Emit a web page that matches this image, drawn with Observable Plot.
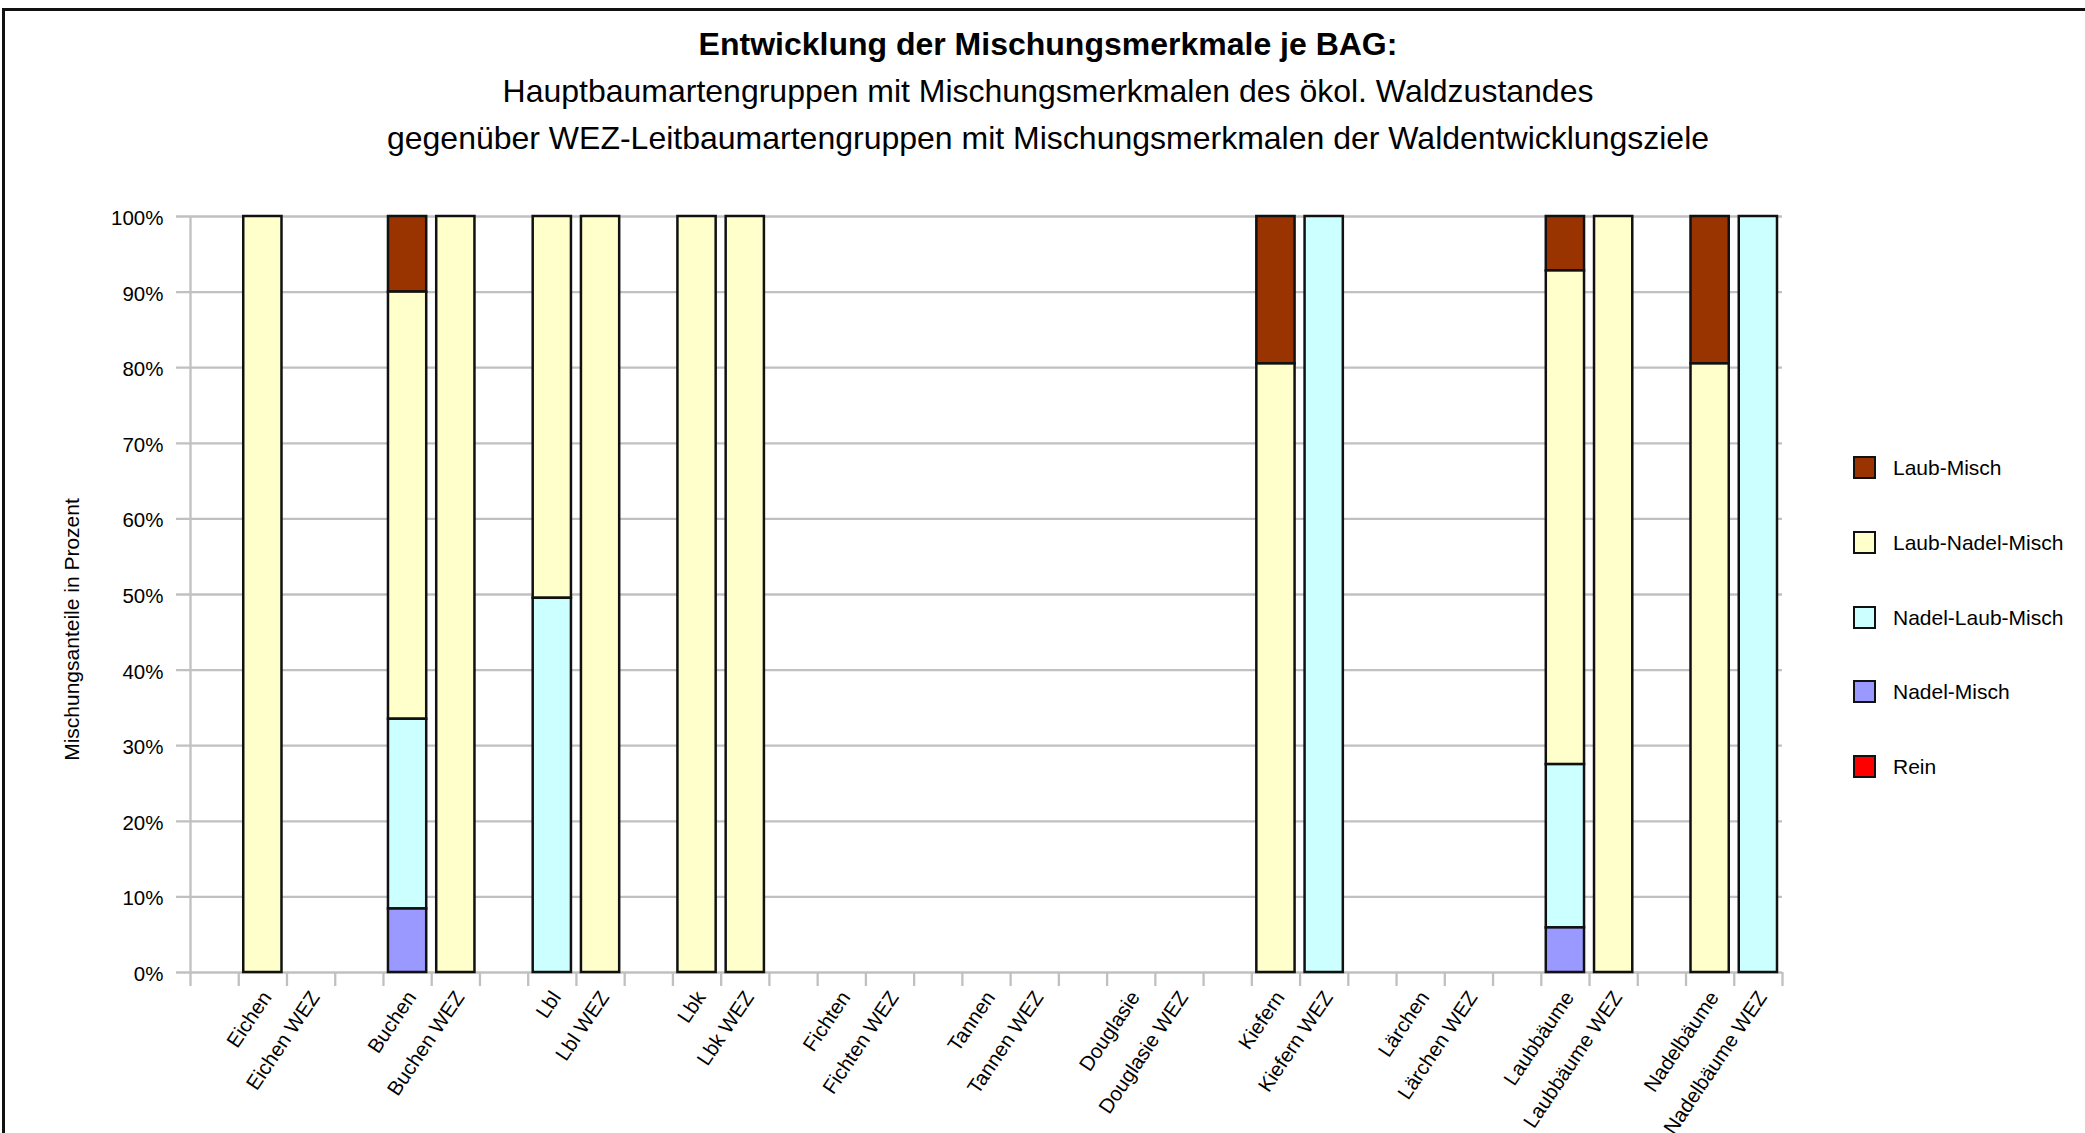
<!DOCTYPE html>
<html>
<head>
<meta charset="utf-8">
<script src="https://cdn.jsdelivr.net/npm/d3@7"></script>
<script src="https://cdn.jsdelivr.net/npm/@observablehq/plot@0.6"></script>
<style>
  html, body { margin: 0; padding: 0; background: #fff; }
  body { font-family: "Liberation Sans", Arial, sans-serif; color: #000; }
  #frame { position: relative; width: 2085px; height: 1133px; overflow: hidden; }
  #border { position: absolute; left: 2px; top: 8px; width: 2100px; height: 1140px;
            border-left: 3px solid #111; border-top: 3px solid #111; }
  #titles { position: absolute; left: 10px; top: 21px; width: 2076px; text-align: center;
            font-size: 32px; line-height: 47px; }
  #titles .t1 { font-weight: bold; }
  #chart { position: absolute; left: 0; top: 160px; }
  #legend { position: absolute; left: 1853px; top: 456px; font-size: 21px; }
  #legend .row { position: absolute; left: 0; height: 24px; white-space: nowrap; }
  #legend .sw { position: absolute; left: 0; top: 0; width: 19px; height: 19px; border: 2.5px solid #111; }
  #legend .lab { position: absolute; left: 40px; top: 0; line-height: 24px; }
</style>
</head>
<body>
<div id="frame">
  <div id="border"></div>
  <div id="titles">
    <div class="t1">Entwicklung der Mischungsmerkmale je BAG:</div>
    <div>Hauptbaumartengruppen mit Mischungsmerkmalen des ökol. Waldzustandes</div>
    <div>gegenüber WEZ-Leitbaumartengruppen mit Mischungsmerkmalen der Waldentwicklungsziele</div>
  </div>
  <div id="chart"></div>
  <div id="legend"></div>
</div>
<script>
// ---- data ----
const groups = ["Eichen","Buchen","Lbl","Lbk","Fichten","Tannen","Douglasie","Kiefern","Lärchen","Laubbäume","Nadelbäume"];
const barLabels = [
  "Eichen","Eichen WEZ","Buchen","Buchen WEZ","Lbl","Lbl WEZ","Lbk","Lbk WEZ",
  "Fichten","Fichten WEZ","Tannen","Tannen WEZ","Douglasie","Douglasie WEZ",
  "Kiefern","Kiefern WEZ","Lärchen","Lärchen WEZ","Laubbäume","Laubbäume WEZ",
  "Nadelbäume","Nadelbäume WEZ"
];
const seriesNames  = ["Laub-Misch","Laub-Nadel-Misch","Nadel-Laub-Misch","Nadel-Misch","Rein"];
const seriesColors = ["#993300","#FFFFCC","#CCFFFF","#9999FF","#FF0000"];
const laubMisch      = [0,0, 10.0,0,  0,0,    0,0,   0,0, 0,0, 0,0, 19.5,0,  0,0, 7.2,0,   19.5,0];
const laubNadelMisch = [100,0, 56.5,100, 50.5,100, 100,100, 0,0, 0,0, 0,0, 80.5,0, 0,0, 65.3,100, 80.5,0];
const nadelLaubMisch = [0,0, 25.1,0,  49.5,0, 0,0,   0,0, 0,0, 0,0, 0,100,   0,0, 21.6,0,  0,100];
const nadelMisch     = [0,0, 8.4,0,   0,0,    0,0,   0,0, 0,0, 0,0, 0,0,     0,0, 5.9,0,   0,0];
const rein           = [0,0, 0,0,     0,0,    0,0,   0,0, 0,0, 0,0, 0,0,     0,0, 0,0,     0,0];
const yTicks = [0,10,20,30,40,50,60,70,80,90,100];
const yLabel = "Mischungsanteile in Prozent";

// ---- build table ----
const slotsPerGroup = 3;
const nSlots = groups.length * slotsPerGroup;
const slotOf = i => Math.floor(i / 2) * slotsPerGroup + 1 + (i % 2);
const seriesValues = [laubMisch, laubNadelMisch, nadelLaubMisch, nadelMisch, rein];
const rows = [];
barLabels.forEach((lab, i) => {
  seriesNames.forEach((s, k) => {
    rows.push({bar: lab, slot: slotOf(i), slotEnd: slotOf(i) + 1, series: s, value: seriesValues[k][i]});
  });
});
const labelRows = barLabels.map((lab, i) => ({label: lab, pos: slotOf(i) + 0.5}));
const stackOrder = seriesNames.slice().reverse(); // bottom -> top: Rein ... Laub-Misch

const grid = "#c0c0c0";
const chart = Plot.plot({
  width: 2085,
  height: 973,
  marginLeft: 190,
  marginRight: 303,
  marginTop: 56,
  marginBottom: 161,
  x: {domain: [0, nSlots], axis: null, label: null},
  y: {domain: [0, 100], axis: null, label: null},
  color: {domain: seriesNames, range: seriesColors},
  style: {fontFamily: "'Liberation Sans', Arial, sans-serif", color: "#000", background: "transparent", overflow: "visible"},
  marks: [
    Plot.ruleY(yTicks, {stroke: grid, strokeWidth: 2.3, insetLeft: -14}),
    Plot.ruleX([0], {stroke: grid, strokeWidth: 2.3}),
    Plot.axisX({ticks: d3.range(nSlots + 1), tickSize: 14, tickFormat: () => "", label: null, stroke: grid, strokeWidth: 2.3}),
    Plot.axisY({ticks: yTicks, tickSize: 0, tickPadding: 27, tickFormat: d => d + "%", label: null, fontSize: 20.5, fill: "#000", dy: 2}),
    Plot.rectY(rows, Plot.stackY({
      x: "slot", x1: "slot", x2: "slotEnd", y: "value", z: "series",
      fill: "series", order: stackOrder, filter: d => d.value > 0,
      stroke: "#111", strokeWidth: 2.5, insetLeft: 5, insetRight: 5
    })),
    Plot.text(labelRows, {
      x: "pos", y: () => 0, text: "label", textAnchor: "end", lineAnchor: "middle",
      rotate: -56, dx: 4, dy: 21, fontSize: 20.5, fill: "#000"
    }),
    Plot.text([yLabel], {frameAnchor: "left", textAnchor: "middle", rotate: -90, dx: -118, dy: 35, fontSize: 21, fill: "#000"})
  ]
});
document.getElementById("chart").appendChild(chart);

// ---- legend ----
const legend = document.getElementById("legend");
seriesNames.forEach((s, k) => {
  const row = document.createElement("div");
  row.className = "row";
  row.style.top = (k * 74.8) + "px";
  const sw = document.createElement("div");
  sw.className = "sw";
  sw.style.background = seriesColors[k];
  const lab = document.createElement("div");
  lab.className = "lab";
  lab.textContent = s;
  row.appendChild(sw);
  row.appendChild(lab);
  legend.appendChild(row);
});
</script>
</body>
</html>
